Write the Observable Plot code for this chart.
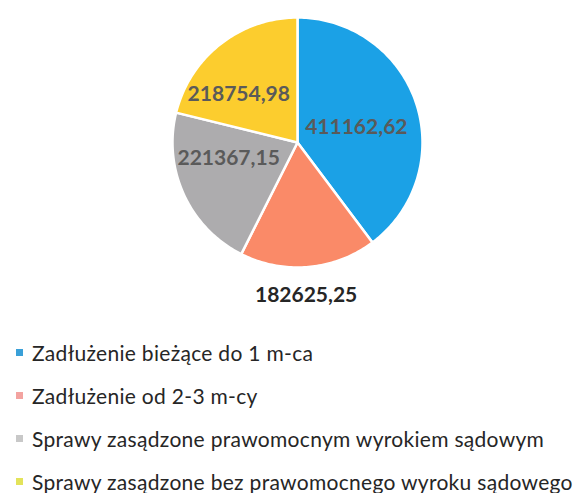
<!DOCTYPE html>
<html>
<head>
<meta charset="utf-8">
<script src="https://cdn.jsdelivr.net/npm/d3@7"></script>
<script src="https://cdn.jsdelivr.net/npm/@observablehq/plot@0.6"></script>
<style>
  html, body { margin: 0; padding: 0; background: #fff; }
  #chart { width: 588px; }
  .legend { font-family: Lato, "Open Sans", sans-serif; font-size: 21px; letter-spacing: 0.3px; color: #262626; padding-top: 11px; }
  .legend .item { height: 43px; line-height: 43px; white-space: nowrap; position: relative; }
  .legend .sw { position: absolute; left: 16px; top: 18px; width: 7px; height: 7px; }
  .legend .tx { position: absolute; left: 32px; top: 0; }
</style>
</head>
<body>
<div id="chart"></div>
<script>
const categories = [
  "Zadłużenie bieżące do 1 m-ca",
  "Zadłużenie od 2-3 m-cy",
  "Sprawy zasądzone prawomocnym wyrokiem sądowym",
  "Sprawy zasądzone bez prawomocnego wyroku sądowego"
];
const values = [411162.62, 182625.25, 221367.15, 218754.98];
const valueLabels = ["411162,62", "182625,25", "221367,15", "218754,98"];
const colors = ["#1ba1e6", "#fa8a68", "#adacae", "#fccd2e"];
const legendColors = ["#3aa0d8", "#f3a3a0", "#c8c8c8", "#e3e35a"];

const W = 588, H = 320, R = 125, CX = 297, CY = 142;

const arcs = d3.pie().sort(null).value(d => d)(values);

// polygon outline of each slice, derived from the pie angles
const pts = [];
arcs.forEach((a, i) => {
  const cat = categories[i];
  pts.push({cat, x: 0, y: 0});
  const n = Math.max(2, Math.ceil((a.endAngle - a.startAngle) / (Math.PI / 180)));
  for (let k = 0; k <= n; k++) {
    const t = a.startAngle + (a.endAngle - a.startAngle) * k / n;
    pts.push({cat, x: Math.sin(t), y: Math.cos(t)});
  }
});

const labelData = arcs.map((a, i) => {
  const m = (a.startAngle + a.endAngle) / 2;
  return {cat: categories[i], label: valueLabels[i], m};
});
const at = (r) => (d) => ({x: r * Math.sin(d.m), y: r * Math.cos(d.m)});

const blue = labelData[0], salmon = labelData[1], gray = labelData[2], yellow = labelData[3];

const xDomain = [-CX / R, (W - CX) / R];
const yDomain = [-(H - CY) / R, CY / R];
const lf = {fontSize: 21, fontWeight: "bold", fontFamily: "Lato, 'Open Sans', sans-serif"};

const plot = Plot.plot({
  width: W, height: H,
  margin: 0,
  x: {domain: xDomain, axis: null},
  y: {domain: yDomain, axis: null},
  color: {domain: categories, range: colors},
  style: {fontFamily: "Lato, 'Open Sans', sans-serif", background: "#fff"},
  marks: [
    Plot.line(pts, {x: "x", y: "y", z: "cat", fill: "cat", stroke: "white", strokeWidth: 2.5, curve: "linear-closed"}),
    Plot.text([blue], {x: d => at(0.42)(d).x, y: d => at(0.42)(d).y, text: "label", fill: "#5a5a5a", ...lf, dy: 1, dx: 9}),
    Plot.text([gray], {x: d => at(0.58)(d).x, y: d => at(0.58)(d).y, text: "label", fill: "#5a5a5a", ...lf, dx: -3, dy: -15}),
    Plot.text([yellow], {x: d => at(0.58)(d).x, y: d => at(0.58)(d).y, text: "label", fill: "#5a5a5a", ...lf, dx: -14, dy: 9}),
    Plot.text([salmon], {x: d => at(1.24)(d).x, y: d => at(1.24)(d).y, text: "label", fill: "#262626", ...lf, dx: -5, dy: -2})
  ]
});
document.getElementById("chart").appendChild(plot);

const legend = document.createElement("div");
legend.className = "legend";
categories.forEach((c, i) => {
  const item = document.createElement("div");
  item.className = "item";
  item.innerHTML = `<span class="sw" style="background:${legendColors[i]}"></span><span class="tx">${c}</span>`;
  legend.appendChild(item);
});
document.getElementById("chart").appendChild(legend);
</script>
</body>
</html>
